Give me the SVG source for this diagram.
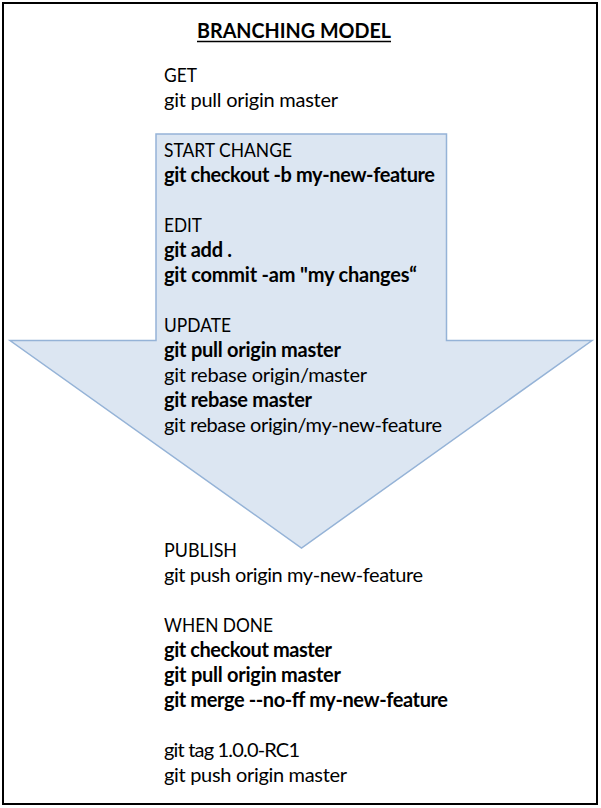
<svg xmlns="http://www.w3.org/2000/svg" width="601" height="808" viewBox="0 0 601 808">
<style>
text{font-family:Lato,"Liberation Sans",sans-serif;font-size:20px;fill:#000}
.b{font-weight:bold}
</style>
<rect width="601" height="808" fill="#fff"/>
<rect x="3" y="3" width="594" height="801" fill="none" stroke="#000" stroke-width="2"/>
<g id="arrow">
<polygon points="156,134 446.5,134 446.5,340.5 592,340.5 301.5,548 10,340.5 156,340.5" fill="#dce6f2" stroke="#95b3d7" stroke-width="1.5"/>
</g>
<g id="title">
<text x="197" y="38" class="b" textLength="194" lengthAdjust="spacingAndGlyphs">BRANCHING MODEL</text>
<line x1="197" y1="41.5" x2="391" y2="41.5" stroke="#000" stroke-width="1.5"/>
</g>
<g id="get">
<text x="164" y="82" textLength="33" lengthAdjust="spacingAndGlyphs">GET</text>
<text x="164" y="107" textLength="174">git pull origin master</text>
</g>
<g id="start">
<text x="164" y="157" textLength="128" lengthAdjust="spacingAndGlyphs">START CHANGE</text>
<text x="164" y="182" class="b" textLength="271">git checkout -b my-new-feature</text>
</g>
<g id="edit">
<text x="164" y="232" textLength="38" lengthAdjust="spacingAndGlyphs">EDIT</text>
<text x="164" y="257" class="b" textLength="68">git add .</text>
<text x="164" y="282" class="b" textLength="253">git commit -am "my changes“</text>
</g>
<g id="update">
<text x="164" y="332" textLength="67" lengthAdjust="spacingAndGlyphs">UPDATE</text>
<text x="164" y="357" class="b" textLength="177">git pull origin master</text>
<text x="164" y="382" textLength="203">git rebase origin/master</text>
<text x="164" y="407" class="b" textLength="148">git rebase master</text>
<text x="164" y="432" textLength="278">git rebase origin/my-new-feature</text>
</g>
<g id="publish">
<text x="164" y="557" textLength="73" lengthAdjust="spacingAndGlyphs">PUBLISH</text>
<text x="164" y="582" textLength="259">git push origin my-new-feature</text>
</g>
<g id="done">
<text x="164" y="632" textLength="109" lengthAdjust="spacingAndGlyphs">WHEN DONE</text>
<text x="164" y="657" class="b" textLength="168">git checkout master</text>
<text x="164" y="682" class="b" textLength="177">git pull origin master</text>
<text x="164" y="707" class="b" textLength="284">git merge --no-ff my-new-feature</text>
</g>
<g id="release">
<text x="164" y="757" textLength="136">git tag 1.0.0-RC1</text>
<text x="164" y="782" textLength="183">git push origin master</text>
</g>
<g id="connectors"></g>
</svg>
